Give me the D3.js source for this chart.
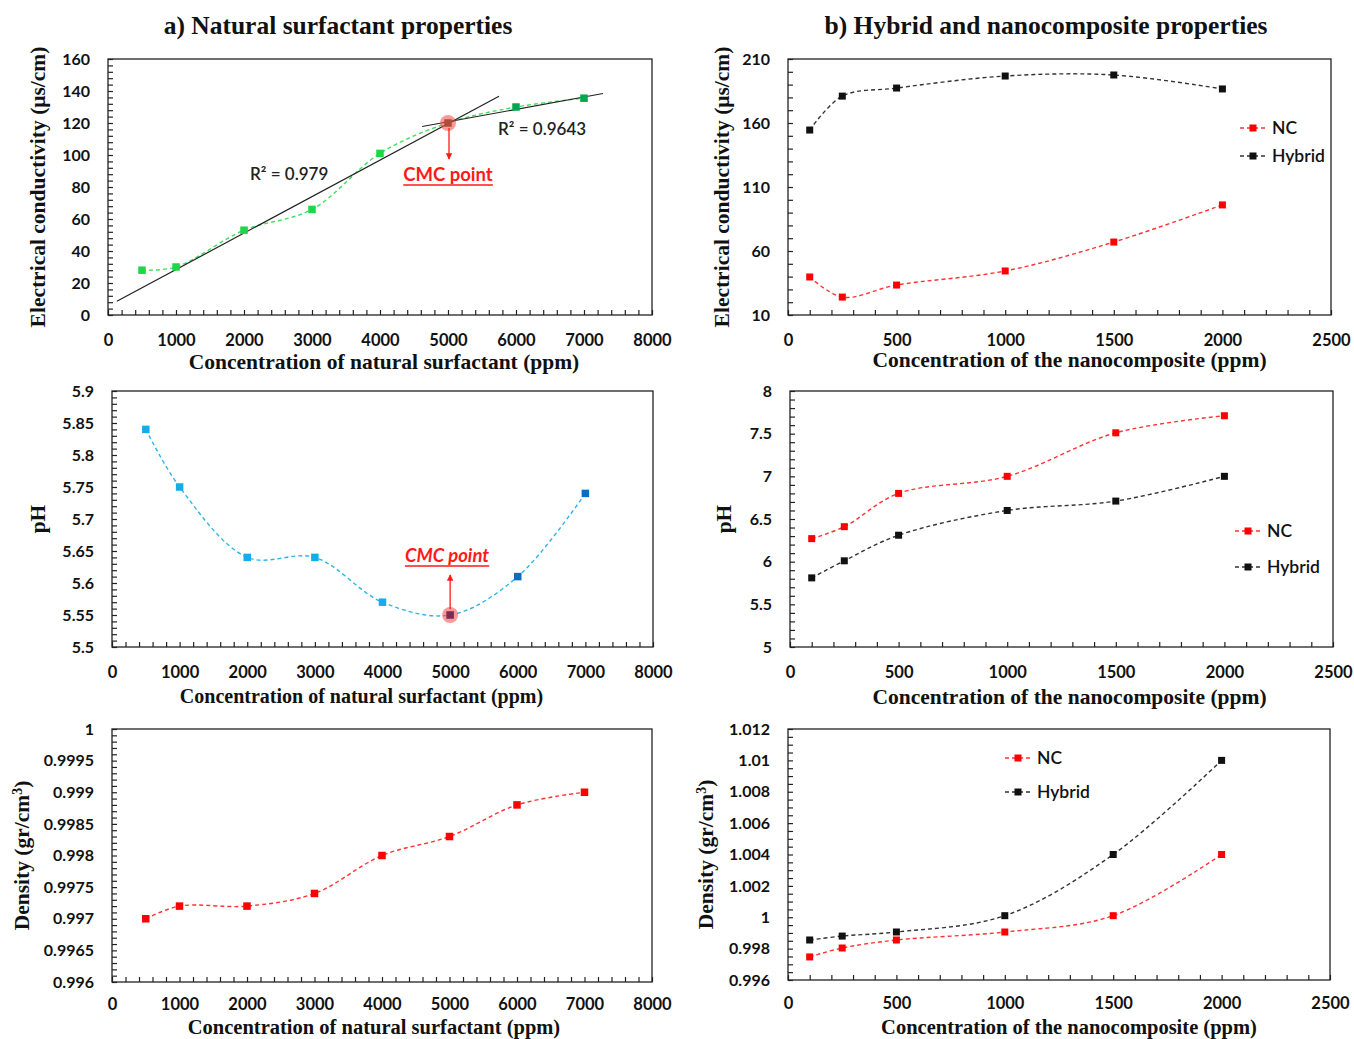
<!DOCTYPE html>
<html>
<head>
<meta charset="utf-8">
<script src="https://cdn.jsdelivr.net/npm/d3@7/dist/d3.min.js"></script>
<style>
  html, body { margin: 0; padding: 0; background: #fff; }
  svg { display: block; }
</style>
</head>
<body>
<svg id="fig" width="1354" height="1039"></svg>
<script>
// ---- data: natural surfactant series ----
const surfConc = [500, 1000, 2000, 3000, 4000, 5000, 6000, 7000];
const surfConductivity = [28, 30, 53, 66, 101, 120, 130, 135.5];
const surfPH = [5.84, 5.75, 5.64, 5.64, 5.57, 5.55, 5.61, 5.74];
const surfDensity = [0.997, 0.9972, 0.9972, 0.9974, 0.998, 0.9983, 0.9988, 0.999];

// ---- data: nanocomposite (NC) and hybrid series ----
const nanoConc = [100, 250, 500, 1000, 1500, 2000];
const ncConductivity = [39.7, 24, 33.4, 44.4, 67, 96];
const hybridConductivity = [154.5, 181, 187.3, 196.7, 197.5, 186.6];
const ncPH = [6.27, 6.41, 6.8, 7.0, 7.51, 7.71];
const hybridPH = [5.81, 6.01, 6.31, 6.6, 6.71, 7.0];
const ncDensity = [0.99747, 0.99804, 0.99855, 0.99906, 1.0001, 1.004];
const hybridDensity = [0.99855, 0.9988, 0.99906, 1.0001, 1.004, 1.01];

// ---- linear trend fits for the conductivity break (CMC) ----
const fitBelowCMC = [1000, 2000, 3000, 4000, 5000];
const fitAboveCMC = [5000, 6000, 7000];
const fitBelowSpan = [130, 5750];
const fitAboveSpan = [4620, 7280];
const fitLabels = ["R\u00B2 = 0.979", "R\u00B2 = 0.9643"];
const cmcConc = 5000;

// ---- axis ticks ----
const surfConcTicks = [0, 1000, 2000, 3000, 4000, 5000, 6000, 7000, 8000];
const nanoConcTicks = [0, 500, 1000, 1500, 2000, 2500];
const condTicksA = [0, 20, 40, 60, 80, 100, 120, 140, 160];
const condLabelsA = ["0", "20", "40", "60", "80", "100", "120", "140", "160"];
const phTicksA = [5.5, 5.55, 5.6, 5.65, 5.7, 5.75, 5.8, 5.85, 5.9];
const phLabelsA = ["5.5", "5.55", "5.6", "5.65", "5.7", "5.75", "5.8", "5.85", "5.9"];
const densTicksA = [0.996, 0.9965, 0.997, 0.9975, 0.998, 0.9985, 0.999, 0.9995, 1];
const densLabelsA = ["0.996", "0.9965", "0.997", "0.9975", "0.998", "0.9985", "0.999", "0.9995", "1"];
const condTicksB = [10, 60, 110, 160, 210];
const condLabelsB = ["10", "60", "110", "160", "210"];
const phTicksB = [5, 5.5, 6, 6.5, 7, 7.5, 8];
const phLabelsB = ["5", "5.5", "6", "6.5", "7", "7.5", "8"];
const densTicksB = [0.996, 0.998, 1, 1.002, 1.004, 1.006, 1.008, 1.01, 1.012];
const densLabelsB = ["0.996", "0.998", "1", "1.002", "1.004", "1.006", "1.008", "1.01", "1.012"];

const seriesNames = ["NC", "Hybrid"];

const svg = d3.select("#fig");
const SERIF = "'Liberation Serif', 'Times New Roman', serif";
const SANS = "Lato, 'Open Sans', 'Liberation Sans', sans-serif";
const TITLE_SIZE = 21.5;

// arrowhead for the CMC callouts
svg.append("defs").append("marker")
  .attr("id", "arrowRed").attr("viewBox", "0 0 10 10")
  .attr("refX", 9).attr("refY", 5)
  .attr("markerWidth", 5).attr("markerHeight", 5)
  .attr("orient", "auto-start-reverse")
  .append("path").attr("d", "M0,0 L10,5 L0,10 z").attr("fill", "#ff1a1a");

// section headings
svg.append("text").attr("x", 338).attr("y", 34).attr("text-anchor", "middle")
  .attr("font-family", SERIF).attr("font-weight", "bold").attr("font-size", 25.5)
  .attr("fill", "#111").text("a) Natural surfactant properties");
svg.append("text").attr("x", 1046).attr("y", 34).attr("text-anchor", "middle")
  .attr("font-family", SERIF).attr("font-weight", "bold").attr("font-size", 25.5)
  .attr("fill", "#111").text("b) Hybrid and nanocomposite properties");

function panel(cfg) {
  const g = svg.append("g");
  const x = d3.scaleLinear().domain(cfg.xDomain).range([cfg.left, cfg.right]);
  const y = d3.scaleLinear().domain(cfg.yDomain).range([cfg.bottom, cfg.top]);

  // minor inward ticks along the bottom and left edges
  const xMinor = d3.range(cfg.xDomain[0], cfg.xDomain[1] + 1e-9, cfg.xMinor);
  const yMinor = d3.range(cfg.yDomain[0], cfg.yDomain[1] + cfg.yMinor * 1e-6, cfg.yMinor);
  g.append("g").attr("transform", `translate(0,${cfg.bottom})`)
    .call(d3.axisBottom(x).tickValues(xMinor).tickSizeInner(-5).tickSizeOuter(0).tickFormat(""))
    .call(a => a.select(".domain").remove())
    .call(a => a.selectAll("line").attr("stroke", "#222").attr("stroke-width", 1.2));
  g.append("g").attr("transform", `translate(${cfg.left},0)`)
    .call(d3.axisLeft(y).tickValues(yMinor).tickSizeInner(-5).tickSizeOuter(0).tickFormat(""))
    .call(a => a.select(".domain").remove())
    .call(a => a.selectAll("line").attr("stroke", "#222").attr("stroke-width", 1.2));

  // labelled ticks
  g.append("g").attr("transform", `translate(0,${cfg.bottom + cfg.xLabelDy})`)
    .call(d3.axisBottom(x).tickValues(cfg.xTicks).tickSize(0).tickFormat(d3.format("d")))
    .call(a => a.select(".domain").remove())
    .call(a => a.selectAll("text").attr("font-family", SANS).attr("font-weight", "bold")
      .attr("font-size", 16.5).attr("fill", "#111"));
  g.append("g").attr("transform", `translate(${cfg.left - 15},0)`)
    .call(d3.axisLeft(y).tickValues(cfg.yTicks).tickSize(0)
      .tickFormat((d, i) => cfg.yLabels[i]))
    .call(a => a.select(".domain").remove())
    .call(a => a.selectAll("text").attr("font-family", SANS).attr("font-weight", "bold")
      .attr("font-size", 16).attr("fill", "#111"));

  // plot frame
  g.append("rect").attr("x", cfg.left).attr("y", cfg.top)
    .attr("width", cfg.right - cfg.left).attr("height", cfg.bottom - cfg.top)
    .attr("fill", "none").attr("stroke", "#222").attr("stroke-width", 1.3);

  // axis titles
  g.append("text").attr("x", (cfg.left + cfg.right) / 2 - cfg.xTitleShift).attr("y", cfg.bottom + cfg.xTitleDy)
    .attr("text-anchor", "middle").attr("font-family", SERIF).attr("font-weight", "bold")
    .attr("font-size", cfg.xTitleSize || TITLE_SIZE).attr("fill", "#111").text(cfg.xTitle);
  const yt = g.append("text")
    .attr("transform", `translate(${cfg.yTitleX},${(cfg.top + cfg.bottom) / 2}) rotate(-90)`)
    .attr("text-anchor", "middle").attr("font-family", SERIF).attr("font-weight", "bold")
    .attr("font-size", TITLE_SIZE).attr("fill", "#111");
  yt.text(cfg.yTitle);
  if (cfg.yTitleSup) yt.append("tspan").attr("baseline-shift", "super").attr("font-size", 14).text(cfg.yTitleSup);
  if (cfg.yTitleEnd) yt.append("tspan").text(cfg.yTitleEnd);

  const line = d3.line().curve(d3.curveCatmullRom.alpha(0.5))
    .x(d => x(d[0])).y(d => y(d[1]));

  cfg.series.forEach(s => {
    const pts = s.xs.map((v, i) => [v, s.ys[i]]);
    g.append("path").datum(pts).attr("d", line).attr("fill", "none")
      .attr("stroke", s.line).attr("stroke-width", 1.4).attr("stroke-dasharray", "4,3");
  });
  return { g, x, y };
}

function markers(p, xs, ys, colors, size) {
  p.g.selectAll(null).data(xs.map((v, i) => [v, ys[i], colors[i]])).join("rect")
    .attr("x", d => p.x(d[0]) - size / 2).attr("y", d => p.y(d[1]) - size / 2)
    .attr("width", size).attr("height", size).attr("fill", d => d[2]);
}

function legend(p, items, x0, y0, gap) {
  items.forEach((it, i) => {
    const yy = y0 + i * gap;
    p.g.append("line").attr("x1", x0).attr("x2", x0 + 26).attr("y1", yy).attr("y2", yy)
      .attr("stroke", it.line).attr("stroke-width", 1.4).attr("stroke-dasharray", "4,3");
    p.g.append("rect").attr("x", x0 + 9.5).attr("y", yy - 3.5).attr("width", 7).attr("height", 7)
      .attr("fill", it.fill);
    p.g.append("text").attr("x", x0 + 32).attr("y", yy + 6).attr("font-family", SANS)
      .attr("font-weight", 600).attr("font-size", 17.5).attr("fill", "#111").text(it.name);
  });
}

function underlinedLabel(p, cx, cy, txt, italic) {
  const t = p.g.append("text").attr("x", cx).attr("y", cy).attr("text-anchor", "middle")
    .attr("font-family", SANS).attr("font-weight", "bold").attr("font-size", 18.5)
    .attr("font-style", italic ? "italic" : "normal").attr("fill", "#ff1a1a").text(txt);
  const bb = t.node().getBBox();
  p.g.append("line").attr("x1", bb.x).attr("x2", bb.x + bb.width)
    .attr("y1", cy + 4).attr("y2", cy + 4).attr("stroke", "#ff1a1a").attr("stroke-width", 1.4);
}

function linFit(xs, ys) {
  const mx = d3.mean(xs), my = d3.mean(ys);
  const sxy = d3.sum(xs, (v, i) => (v - mx) * (ys[i] - my));
  const sxx = d3.sum(xs, v => (v - mx) * (v - mx));
  const b = sxy / sxx;
  return v => my + b * (v - mx);
}

const red = "#ff0000", redLine = "#ff3333", black = "#111", blackLine = "#333";

// ---------- a) conductivity ----------
const pA1 = panel({
  left: 108, right: 652, top: 59, bottom: 315,
  xDomain: [0, 8000], yDomain: [0, 160], xMinor: 200, yMinor: 4,
  xTicks: surfConcTicks, yTicks: condTicksA, yLabels: condLabelsA, xLabelDy: 16,
  xTitle: "Concentration of natural surfactant (ppm)", xTitleDy: 54, xTitleShift: -4,
  yTitle: "Electrical conductivity (\u03BCs/cm)", yTitleX: 45,
  series: [{ xs: surfConc, ys: surfConductivity, line: "#3de05a" }]
});
// trend lines
[[fitBelowCMC, fitBelowSpan], [fitAboveCMC, fitAboveSpan]].forEach(([sub, span]) => {
  const ys = sub.map(c => surfConductivity[surfConc.indexOf(c)]);
  const f = linFit(sub, ys);
  pA1.g.append("line").attr("x1", pA1.x(span[0])).attr("y1", pA1.y(f(span[0])))
    .attr("x2", pA1.x(span[1])).attr("y2", pA1.y(f(span[1])))
    .attr("stroke", "#222").attr("stroke-width", 1.2);
});
{
  const cmcVal = surfConductivity[surfConc.indexOf(cmcConc)];
  pA1.g.append("circle").attr("cx", pA1.x(cmcConc)).attr("cy", pA1.y(cmcVal)).attr("r", 8)
    .attr("fill", "rgba(255,70,70,0.55)");
  markers(pA1, surfConc, surfConductivity,
    surfConc.map(c => c >= 6000 ? "#00a94f" : (c === cmcConc ? "#a8503a" : "#1ed64a")), 7.5);
  pA1.g.append("line").attr("x1", pA1.x(cmcConc) + 1).attr("x2", pA1.x(cmcConc) + 1)
    .attr("y1", pA1.y(cmcVal) + 5).attr("y2", pA1.y(cmcVal) + 36)
    .attr("stroke", "#ff1a1a").attr("stroke-width", 1.3).attr("marker-end", "url(#arrowRed)");
  underlinedLabel(pA1, 448, 181, "CMC point", false);
  pA1.g.append("text").attr("x", 250).attr("y", 180).attr("font-family", SANS).attr("font-weight", 600)
    .attr("font-size", 17).attr("fill", "#222").text(fitLabels[0]);
  pA1.g.append("text").attr("x", 498).attr("y", 135).attr("font-family", SANS).attr("font-weight", 600)
    .attr("font-size", 17).attr("fill", "#222").text(fitLabels[1]);
}

// ---------- a) pH ----------
const pA2 = panel({
  left: 112, right: 653, top: 391, bottom: 647,
  xDomain: [0, 8000], yDomain: [5.5, 5.9], xMinor: 200, yMinor: 0.01,
  xTicks: surfConcTicks, yTicks: phTicksA, yLabels: phLabelsA, xLabelDy: 16,
  xTitle: "Concentration of natural surfactant (ppm)", xTitleDy: 56, xTitleShift: 21, xTitleSize: 20,
  yTitle: "pH", yTitleX: 45,
  series: [{ xs: surfConc, ys: surfPH, line: "#2db5ea" }]
});
{
  const cmcVal = surfPH[surfConc.indexOf(cmcConc)];
  pA2.g.append("circle").attr("cx", pA2.x(cmcConc)).attr("cy", pA2.y(cmcVal)).attr("r", 8)
    .attr("fill", "rgba(255,70,70,0.55)");
  markers(pA2, surfConc, surfPH,
    surfConc.map(c => c >= 6000 ? "#0a6fc2" : (c === cmcConc ? "#7a2c55" : "#12aeea")), 7.5);
  pA2.g.append("line").attr("x1", pA2.x(cmcConc)).attr("x2", pA2.x(cmcConc))
    .attr("y1", pA2.y(cmcVal) - 6).attr("y2", pA2.y(cmcVal) - 40)
    .attr("stroke", "#ff1a1a").attr("stroke-width", 1.3).attr("marker-end", "url(#arrowRed)");
  underlinedLabel(pA2, 447, 562, "CMC point", true);
}

// ---------- a) density ----------
const pA3 = panel({
  left: 112, right: 652, top: 729, bottom: 982,
  xDomain: [0, 8000], yDomain: [0.996, 1], xMinor: 200, yMinor: 0.0001,
  xTicks: surfConcTicks, yTicks: densTicksA, yLabels: densLabelsA, xLabelDy: 13,
  xTitle: "Concentration of natural surfactant (ppm)", xTitleDy: 52, xTitleShift: 8, xTitleSize: 20.5,
  yTitle: "Density (gr/cm", yTitleSup: "3", yTitleEnd: ")", yTitleX: 29,
  series: [{ xs: surfConc, ys: surfDensity, line: redLine }]
});
markers(pA3, surfConc, surfDensity, surfConc.map(() => red), 7.5);

// ---------- b) conductivity ----------
const pB1 = panel({
  left: 788, right: 1331, top: 59, bottom: 315,
  xDomain: [0, 2500], yDomain: [10, 210], xMinor: 100, yMinor: 10,
  xTicks: nanoConcTicks, yTicks: condTicksB, yLabels: condLabelsB, xLabelDy: 16,
  xTitle: "Concentration of the nanocomposite (ppm)", xTitleDy: 52, xTitleShift: -10,
  yTitle: "Electrical conductivity (\u03BCs/cm)", yTitleX: 729,
  series: [{ xs: nanoConc, ys: hybridConductivity, line: blackLine },
           { xs: nanoConc, ys: ncConductivity, line: redLine }]
});
markers(pB1, nanoConc, hybridConductivity, nanoConc.map(() => black), 7);
markers(pB1, nanoConc, ncConductivity, nanoConc.map(() => red), 7);
legend(pB1, [{ name: seriesNames[0], line: redLine, fill: red },
             { name: seriesNames[1], line: blackLine, fill: black }], 1240, 128, 28);

// ---------- b) pH ----------
const pB2 = panel({
  left: 790, right: 1333, top: 391, bottom: 647,
  xDomain: [0, 2500], yDomain: [5, 8], xMinor: 100, yMinor: 0.1,
  xTicks: nanoConcTicks, yTicks: phTicksB, yLabels: phLabelsB, xLabelDy: 16,
  xTitle: "Concentration of the nanocomposite (ppm)", xTitleDy: 57, xTitleShift: -8,
  yTitle: "pH", yTitleX: 731,
  series: [{ xs: nanoConc, ys: ncPH, line: redLine },
           { xs: nanoConc, ys: hybridPH, line: blackLine }]
});
markers(pB2, nanoConc, ncPH, nanoConc.map(() => red), 7);
markers(pB2, nanoConc, hybridPH, nanoConc.map(() => black), 7);
legend(pB2, [{ name: seriesNames[0], line: redLine, fill: red },
             { name: seriesNames[1], line: blackLine, fill: black }], 1235, 531, 36);

// ---------- b) density ----------
const pB3 = panel({
  left: 788, right: 1330, top: 729, bottom: 980,
  xDomain: [0, 2500], yDomain: [0.996, 1.012], xMinor: 100, yMinor: 0.0005,
  xTicks: nanoConcTicks, yTicks: densTicksB, yLabels: densLabelsB, xLabelDy: 14,
  xTitle: "Concentration of the nanocomposite (ppm)", xTitleDy: 54, xTitleShift: -10, xTitleSize: 20.5,
  yTitle: "Density (gr/cm", yTitleSup: "3", yTitleEnd: ")", yTitleX: 713,
  series: [{ xs: nanoConc, ys: hybridDensity, line: blackLine },
           { xs: nanoConc, ys: ncDensity, line: redLine }]
});
markers(pB3, nanoConc, hybridDensity, nanoConc.map(() => black), 7);
markers(pB3, nanoConc, ncDensity, nanoConc.map(() => red), 7);
legend(pB3, [{ name: seriesNames[0], line: redLine, fill: red },
             { name: seriesNames[1], line: blackLine, fill: black }], 1005, 758, 34);
</script>
</body>
</html>
